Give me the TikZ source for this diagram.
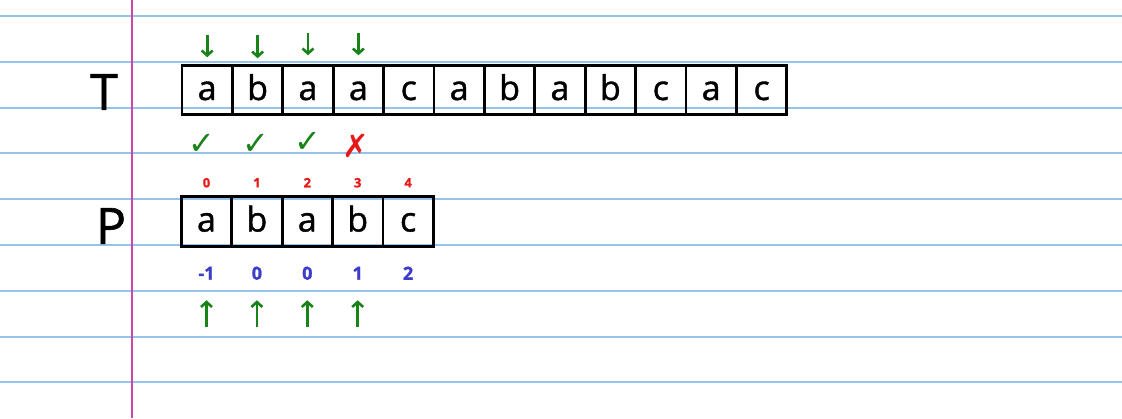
\documentclass[tikz,border=0pt]{standalone}
\usepackage{fontspec}
\setmainfont{Open Sans}[FakeBold=1.2]
\newfontfamily\symfont{DejaVu Sans}
\usetikzlibrary{positioning,arrows.meta}
\definecolor{ruleblue}{RGB}{150,195,235}
\definecolor{marginpink}{RGB}{205,70,170}
\definecolor{penred}{RGB}{230,25,25}
\definecolor{pengreen}{RGB}{25,130,25}
\definecolor{penblue}{RGB}{60,60,200}
\tikzstyle{cell}=[draw,line width=2.8pt,minimum width=50.4pt,minimum height=49.5pt,inner sep=0pt,outer sep=0pt,text height=20pt,text depth=0pt,font=\fontsize{34}{34}\selectfont]
\tikzstyle{lbl}=[font=\fontsize{50}{50}\selectfont]
\tikzstyle{idx}=[penred,font=\fontsize{13}{13}\selectfont\bfseries]
\tikzstyle{fail}=[penblue,font=\fontsize{18}{18}\selectfont\bfseries]
\tikzstyle{ok}=[pengreen,font=\fontsize{32}{32}\selectfont\symfont]
\tikzstyle{bad}=[penred,font=\fontsize{32}{32}\selectfont\symfont]
\tikzstyle{hint}=[pengreen,line width=2.6pt,-{Straight Barb[length=5pt,width=11pt]}]

\begin{document}
\begin{tikzpicture}[x=1pt,y=-1pt]
        \useasboundingbox (0,0) rectangle (1122,418);
        % lined paper
        \foreach \k in {0,...,8}
            \draw[ruleblue,line width=2pt] (0,{16+45.8*\k}) -- (1122,{16+45.8*\k});
        \draw[marginpink,line width=1.3pt] (132,0) -- (132,418);

        % text T
        \node[lbl] (Tlbl) at (104,92) {T};
        \node[cell] (T0) at (207.2,90) {a};
        \node[cell, right=0pt of T0] (T1) {b};
        \node[cell, right=0pt of T1] (T2) {a};
        \node[cell, right=0pt of T2] (T3) {a};
        \node[cell, right=0pt of T3] (T4) {c};
        \node[cell, right=0pt of T4] (T5) {a};
        \node[cell, right=0pt of T5] (T6) {b};
        \node[cell, right=0pt of T6] (T7) {a};
        \node[cell, right=0pt of T7] (T8) {b};
        \node[cell, right=0pt of T8] (T9) {c};
        \node[cell, right=0pt of T9] (T10) {a};
        \node[cell, right=0pt of T10] (T11) {c};

        % pattern P
        \node[lbl] (Plbl) at (111,226) {P};
        \node[cell] (P0) at (206.5,221.5) {a};
        \node[cell, right=0pt of P0] (P1) {b};
        \node[cell, right=0pt of P1] (P2) {a};
        \node[cell, right=0pt of P2] (P3) {b};
        \node[cell, right=0pt of P3] (P4) {c};

        % indices and failure values
        \node[idx] (i0) at ([yshift=14pt]P0.north) {0};
        \node[idx] (i1) at ([yshift=14pt]P1.north) {1};
        \node[idx] (i2) at ([yshift=14pt]P2.north) {2};
        \node[idx] (i3) at ([yshift=14pt]P3.north) {3};
        \node[idx] (i4) at ([yshift=14pt]P4.north) {4};
        \node[fail] (f0) at ([yshift=-27pt]P0.south) {-1};
        \node[fail] (f1) at ([yshift=-27pt]P1.south) {0};
        \node[fail] (f2) at ([yshift=-27pt]P2.south) {0};
        \node[fail] (f3) at ([yshift=-27pt]P3.south) {1};
        \node[fail] (f4) at ([yshift=-27pt]P4.south) {2};

        % comparisons
        \node[ok] (c0) at ([xshift=-5pt,yshift=-30pt]T0.south) {✓};
        \node[ok] (c1) at ([xshift=-2pt,yshift=-30pt]T1.south) {✓};
        \node[ok] (c2) at ([yshift=-28pt]T2.south) {✓};
        \node[bad] (c3) at ([xshift=-2pt,yshift=-31pt]T3.south) {✗};

        % pointers
        \draw[hint] ([yshift=30pt]T0.north) -- ([yshift=8pt]T0.north);
        \draw[hint] ([yshift=30pt]T1.north) -- ([yshift=7pt]T1.north);
        \draw[hint] ([yshift=32pt]T2.north) -- ([yshift=10pt]T2.north);
        \draw[hint] ([yshift=32pt]T3.north) -- ([yshift=10pt]T3.north);
        \draw[hint] ([yshift=-81pt]P0.south) -- ([yshift=-54pt]P0.south);
        \draw[hint] ([yshift=-81pt]P1.south) -- ([yshift=-54pt]P1.south);
        \draw[hint] ([yshift=-81pt]P2.south) -- ([yshift=-54pt]P2.south);
        \draw[hint] ([yshift=-81pt]P3.south) -- ([yshift=-54pt]P3.south);
\end{tikzpicture}
\end{document}
